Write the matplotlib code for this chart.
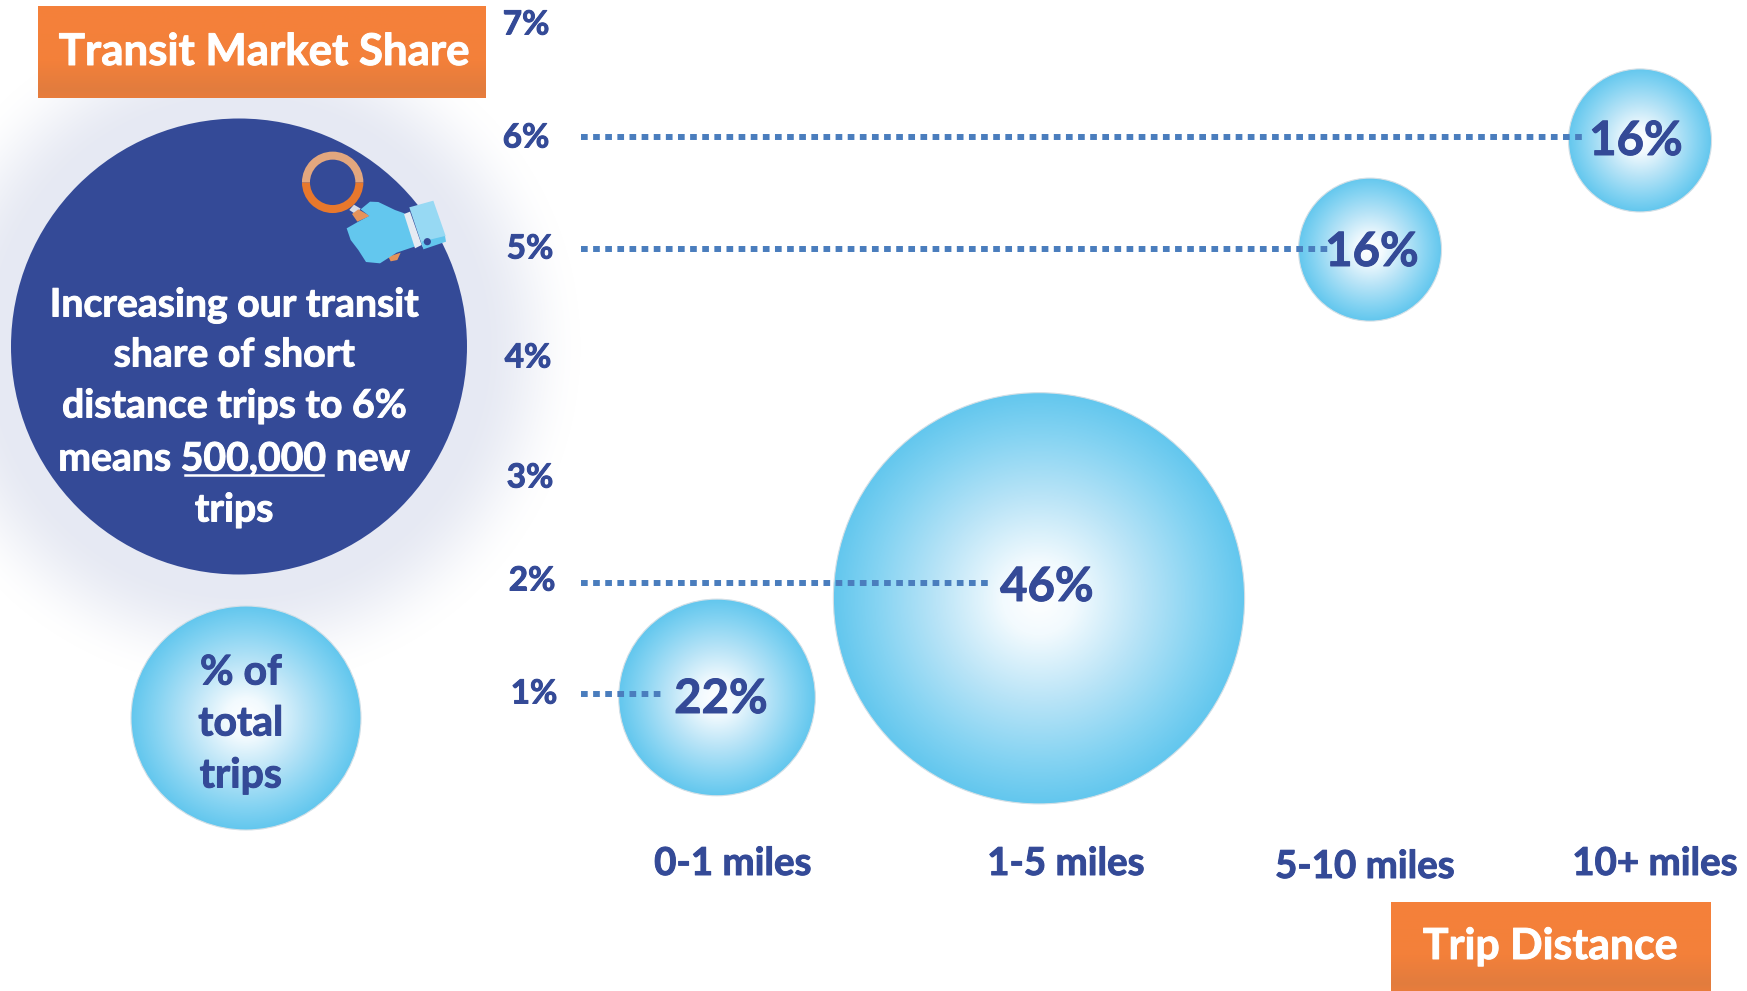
import numpy as np
import matplotlib
matplotlib.use("Agg")
import matplotlib.pyplot as plt
import matplotlib.patheffects as pe
from matplotlib.patches import Circle, Ellipse, Polygon, Wedge
from matplotlib.colors import LinearSegmentedColormap

# trip distance buckets
categories = ["0-1 miles", "1-5 miles", "5-10 miles", "10+ miles"]
trip_share = [22, 46, 16, 16]          # % of total trips, sets bubble size
market_share = [1, 2, 5, 6]            # transit market share, dotted lines
bubble_y = [0.97, 1.86, 4.99, 5.97]    # bubble centres on the share axis
bubble_x = [717, 1039, 1370, 1640]
line_end_x = [662, 991, 1328, 1587]

y_ticks = [7, 6, 5, 4, 3, 2, 1]
tick_px = [(526, 25), (526, 138), (530, 249), (528, 358), (530, 478), (532, 581), (534, 694)]
cat_label_px = [(733, 864), (1066, 864), (1365, 867), (1655, 864)]
value_label_px = [(721, 699), (1047, 587), (1372, 252), (1636, 141)]
callout_lines = ["Increasing our transit", "share of short", "distance trips to 6%",
                 "means 500,000 new", "trips"]
callout_y = [305, 355, 406, 459, 510]
legend_lines = ["% of", "total", "trips"]
legend_y = [673, 724, 776]

W, H = 1747, 991
PX_PER_PCT = 111.4
ZERO_PX = 805.5
R_PER_PCT = 4.47

NAVY = "#344a97"
DOT = "#4a7dbd"
ORANGE = "#f5813a"
SKY = "#63c7ee"
plt.rcParams["font.family"] = ["Lato", "DejaVu Sans"]
plt.rcParams["font.weight"] = "bold"

fig = plt.figure(figsize=(W / 100, H / 100), dpi=100, facecolor="white")
# pixel layer for the decorations
bg = fig.add_axes([0, 0, 1, 1], zorder=0)
bg.set_xlim(0, W)
bg.set_ylim(H, 0)
bg.axis("off")
px = bg.transData

# chart layer, y is the market share in %
ax = fig.add_axes([0, 0, 1, 1], zorder=1)
ax.patch.set_alpha(0)
ax.axis("off")

sky_map = LinearSegmentedColormap.from_list(
    "sky", [(0, "#ffffff"), (0.18, "#f2fafe"), (0.5, "#b9e4f7"), (0.8, "#84d3f2"), (1, SKY)])


def radial(axis, cx, cy, rx, ry):
    # radial gradient image clipped to an ellipse
    yy, xx = np.mgrid[-1:1:300j, -1:1:300j]
    rr = np.clip(np.hypot(xx, yy), 0, 1)
    im = axis.imshow(rr, cmap=sky_map, vmin=0, vmax=1, aspect="auto", zorder=2,
                     extent=[cx - rx, cx + rx, cy - ry, cy + ry], interpolation="bilinear")
    shape = Ellipse((cx, cy), 2 * rx, 2 * ry, facecolor="none", edgecolor="#d3dfe6",
                    linewidth=0.8, zorder=2.1)
    axis.add_patch(shape)
    im.set_clip_path(shape)


def orange_box(x0, y0, x1, y1):
    ramp = np.linspace(0, 1, 100).reshape(-1, 1)
    shade = LinearSegmentedColormap.from_list(
        "box", [(0, ORANGE), (0.6, "#f3803a"), (0.92, "#e27c3e"), (1, "#e87d3c")])
    bg.imshow(ramp, cmap=shade, aspect="auto", extent=[x0, x1, y1, y0], zorder=3)


def label(x, y, s, color, size):
    # Lato bold runs a bit light, so fatten it with a thin stroke
    t = ax.text(x, y, s, color=color, fontsize=size, ha="center", va="center", transform=px, zorder=5)
    t.set_path_effects([pe.withStroke(linewidth=0.7, foreground=color)])


# soft halo round the callout
yy, xx = np.mgrid[0:H, 0:W]
dist = np.hypot(xx - 239, yy - 346.5)
fade = np.clip((345 - dist) / (345 - 240), 0, 1)
halo = np.zeros((H, W, 4))
halo[..., :3] = np.array([0xe6, 0xe9, 0xf3]) / 255
halo[..., 3] = fade * fade * (3 - 2 * fade)
bg.imshow(halo, extent=[0, W, H, 0], aspect="auto", zorder=1)
bg.add_patch(Circle((239, 346.5), 228, facecolor=NAVY, edgecolor="none", zorder=2))

orange_box(38, 6, 486, 98)
orange_box(1391, 902, 1711, 991)
bg.set_xlim(0, W)
bg.set_ylim(H, 0)


# magnifying glass held by a hand
def z(x, y):
    return (280 + x / 3, 130 + y / 3)


lens = z(158, 157)
bg.add_patch(Wedge(lens, 30.7, 0, 180, width=8, facecolor="#e8782c", edgecolor="none", zorder=4))
bg.add_patch(Wedge(lens, 30.7, 180, 360, width=8, facecolor="#e3a77e", edgecolor="none", zorder=4.1))
bg.add_patch(Polygon([z(*p) for p in [(208, 240), (222, 224), (242, 236), (226, 252)]],
                     facecolor="#d9dde6", zorder=4))
bg.add_patch(Polygon([z(*p) for p in [(216, 252), (235, 238), (270, 258), (232, 275)]],
                     facecolor="#e5935a", zorder=4))
bg.add_patch(Polygon([z(*p) for p in [(325, 380), (362, 368), (352, 390), (332, 394)]],
                     facecolor="#e5935a", zorder=4))
bg.add_patch(Polygon([z(*p) for p in [(200, 295), (235, 275), (268, 258), (242, 238), (270, 215),
                                      (295, 216), (345, 240), (373, 250), (418, 345), (350, 368),
                                      (300, 400), (258, 396), (235, 360), (212, 330)]],
                     facecolor=SKY, zorder=4.2))
bg.add_patch(Polygon([z(*p) for p in [(372, 252), (390, 245), (425, 345), (405, 355)]],
                     facecolor="#e6ebf2", zorder=4.3))
bg.add_patch(Polygon([z(*p) for p in [(388, 232), (460, 212), (497, 318), (428, 352)]],
                     facecolor="#97d9f3", zorder=4.3))
bg.add_patch(Polygon([z(*p) for p in [(425, 335), (495, 318), (498, 335), (430, 358)]],
                     facecolor=SKY, zorder=4.4))
bg.add_patch(Circle(z(442, 335), 3.6, facecolor=NAVY, edgecolor="none", zorder=4.5))

# legend bubble
radial(bg, 246, 718, 115, 112)
bg.set_xlim(0, W)
bg.set_ylim(H, 0)

# bubbles, radius scales with the share of trips
for x, y, share in zip(bubble_x, bubble_y, trip_share):
    r = R_PER_PCT * share
    radial(ax, x, y, r, r / PX_PER_PCT)

# dotted guide lines start at the axis and run into the bubbles
for share, end in zip(market_share, line_end_x):
    ax.plot([581, end], [share, share], color=DOT, linewidth=4.3, zorder=3,
            linestyle=(0, (1.12, 0.91)), dash_capstyle="butt")

ax.set_xlim(0, W)
ax.set_ylim((ZERO_PX - H) / PX_PER_PCT, ZERO_PX / PX_PER_PCT)

# axis labels
for tick, (x, y) in zip(y_ticks, tick_px):
    label(x, y, f"{tick}%", NAVY, 24)
for name, (x, y) in zip(categories, cat_label_px):
    label(x, y, name, NAVY, 27.7)
for share, (x, y) in zip(trip_share, value_label_px):
    label(x, y, f"{share}%", NAVY, 34)

label(264, 52, "Transit Market Share", "white", 31.5)
label(1550, 946, "Trip Distance", "white", 30.8)

for line, y in zip(callout_lines, callout_y):
    label(234, y, line, "white", 28.2)
ax.plot([185, 323], [475, 475], color="white", linewidth=1.8, transform=px, zorder=5)

for line, y in zip(legend_lines, legend_y):
    label(241, y, line, NAVY, 29.5)

fig.savefig("out.png", dpi=100)
